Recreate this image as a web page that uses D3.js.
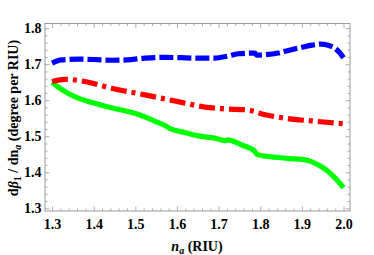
<!DOCTYPE html>
<html><head><meta charset="utf-8">
<script src="https://cdn.jsdelivr.net/npm/d3@7"></script>
<style>
html,body{margin:0;padding:0;background:#fff;}
svg{display:block;}
text{font-family:"Liberation Serif","Times New Roman",serif;font-weight:bold;fill:#000;}
</style></head>
<body>
<svg id="c" width="374" height="255"></svg>
<script>
const majorX = [1.3,1.4,1.5,1.6,1.7,1.8,1.9,2.0];
const majorY = [1.3,1.4,1.5,1.6,1.7,1.8];
const xLabels = ["1.3","1.4","1.5","1.6","1.7","1.8","1.9","2.0"];
const yLabels = ["1.3","1.4","1.5","1.6","1.7","1.8"];

const blueX = [1.30,1.323,1.363,1.40,1.443,1.48,1.523,1.571,1.61,1.643,1.691,1.72,1.747,1.787,1.792,1.81,1.843,1.87,1.90,1.925,1.948,1.965,1.980,1.99,2.0];
const blueY = [1.703,1.712,1.714,1.713,1.711,1.712,1.717,1.719,1.718,1.717,1.717,1.722,1.729,1.731,1.725,1.726,1.731,1.739,1.747,1.753,1.756,1.752,1.744,1.733,1.718];

const redX = [1.30,1.331,1.379,1.443,1.523,1.603,1.667,1.715,1.771,1.804,1.86,1.924,1.988,2.0];
const redY = [1.652,1.658,1.652,1.633,1.615,1.596,1.581,1.576,1.573,1.562,1.550,1.5425,1.536,1.535];

const greenX = [1.30,1.32,1.34,1.363,1.40,1.435,1.47,1.511,1.545,1.577,1.582,1.62,1.651,1.690,1.718,1.722,1.755,1.787,1.792,1.81,1.843,1.87,1.90,1.92,1.94,1.96,1.972,1.985,2.0];
const greenY = [1.650,1.632,1.618,1.606,1.592,1.581,1.572,1.559,1.543,1.526,1.522,1.510,1.501,1.495,1.488,1.490,1.476,1.458,1.450,1.445,1.441,1.438,1.436,1.431,1.420,1.405,1.393,1.378,1.357];

const L = 45, R = 350, T = 23.5, B = 211;
const svg = d3.select("#c");
const x = d3.scaleLinear().domain([1.283, 2.0156]).range([L, R]);
const y = d3.scaleLinear().domain([1.2925, 1.813]).range([B, T]);

const minorX = d3.range(1.30, 2.0001, 0.02).map(v => +v.toFixed(2)).filter(v => !majorX.some(m => Math.abs(m - v) < 1e-6));
const minorY = d3.range(1.30, 1.8001, 0.02).map(v => +v.toFixed(2)).filter(v => !majorY.some(m => Math.abs(m - v) < 1e-6));

const frameCol = "#9a9a9a";

function styleAxis(g){
  g.select(".domain").remove();
  g.selectAll(".tick line").attr("stroke", frameCol).attr("stroke-width", 0.8);
  g.selectAll(".tick text").style("font-size","14px").attr("fill","#000");
}

svg.append("g").attr("transform",`translate(0,${B})`)
  .call(d3.axisBottom(x).tickValues(majorX).tickFormat((d,i)=>xLabels[i]).tickSizeInner(-4.5).tickSizeOuter(0).tickPadding(8))
  .call(styleAxis);
svg.append("g").attr("transform",`translate(0,${B})`)
  .call(d3.axisBottom(x).tickValues(minorX).tickFormat("").tickSizeInner(-2.5).tickSizeOuter(0))
  .call(styleAxis);
svg.append("g").attr("transform",`translate(0,${T})`)
  .call(d3.axisTop(x).tickValues(majorX).tickFormat("").tickSizeInner(-4.5).tickSizeOuter(0))
  .call(styleAxis);
svg.append("g").attr("transform",`translate(0,${T})`)
  .call(d3.axisTop(x).tickValues(minorX).tickFormat("").tickSizeInner(-2.5).tickSizeOuter(0))
  .call(styleAxis);
svg.append("g").attr("transform",`translate(${L},0)`)
  .call(d3.axisLeft(y).tickValues(majorY).tickFormat((d,i)=>yLabels[i]).tickSizeInner(-4.5).tickSizeOuter(0).tickPadding(3.5))
  .call(styleAxis);
svg.append("g").attr("transform",`translate(${L},0)`)
  .call(d3.axisLeft(y).tickValues(minorY).tickFormat("").tickSizeInner(-2.5).tickSizeOuter(0))
  .call(styleAxis);
svg.append("g").attr("transform",`translate(${R},0)`)
  .call(d3.axisRight(y).tickValues(majorY).tickFormat("").tickSizeInner(-4.5).tickSizeOuter(0))
  .call(styleAxis);
svg.append("g").attr("transform",`translate(${R},0)`)
  .call(d3.axisRight(y).tickValues(minorY).tickFormat("").tickSizeInner(-2.5).tickSizeOuter(0))
  .call(styleAxis);

svg.append("rect").attr("x",L).attr("y",T).attr("width",R-L).attr("height",B-T)
  .attr("fill","none").attr("stroke",frameCol).attr("stroke-width",1);

svg.append("clipPath").attr("id","clp").append("rect")
  .attr("x",L).attr("y",T).attr("width",R-L).attr("height",B-T);

const line = d3.line().x(d=>x(d[0])).y(d=>y(d[1])).curve(d3.curveMonotoneX);
const series = [
  {xs: greenX, ys: greenY, color: "#00ff00", dash: null},
  {xs: redX, ys: redY, color: "#ff0000", dash: "16,5,4,5"},
  {xs: blueX, ys: blueY, color: "#0000ff", dash: "14,4"}
];
const plot = svg.append("g").attr("clip-path","url(#clp)");
series.forEach(s => {
  plot.append("path").datum(s.xs.map((v,i)=>[v, s.ys[i]]))
    .attr("d", line).attr("fill","none").attr("stroke", s.color)
    .attr("stroke-width", 5.2).attr("stroke-dasharray", s.dash)
    .attr("stroke-linejoin","round");
});

const xt = svg.append("text").attr("x",197).attr("y",251).attr("text-anchor","middle").style("font-size","14px");
xt.append("tspan").style("font-style","italic").text("n");
xt.append("tspan").style("font-style","italic").style("font-size","10px").attr("dy",3).text("a");
xt.append("tspan").attr("dy",-3).text(" (RIU)");

const yt = svg.append("text").attr("transform","translate(18,118) rotate(-90)").attr("text-anchor","middle").style("font-size","14px");
yt.append("tspan").text("d");
yt.append("tspan").style("font-style","italic").text("β");
yt.append("tspan").style("font-size","10px").attr("dy",3).text("1");
yt.append("tspan").attr("dy",-3).text(" / dn");
yt.append("tspan").style("font-style","italic").style("font-size","10px").attr("dy",3).text("a");
yt.append("tspan").attr("dy",-3).text(" (degree per RIU)");
</script>
</body></html>
